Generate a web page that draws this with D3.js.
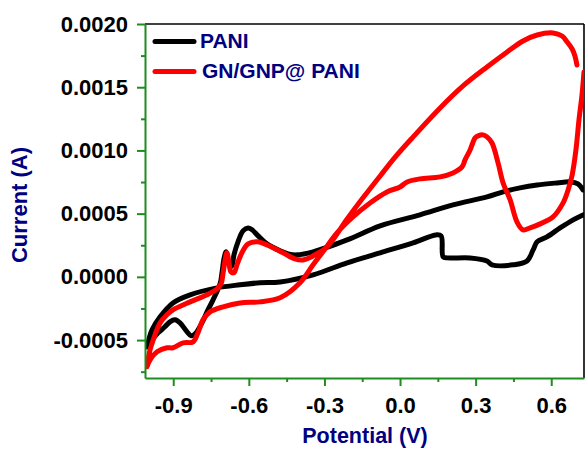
<!DOCTYPE html>
<html>
<head>
<meta charset="utf-8">
<script src="https://cdn.jsdelivr.net/npm/d3@7"></script>
<style>
  html, body { margin: 0; padding: 0; background: #fff; }
  svg { display: block; }
  text { font-family: "Liberation Sans", Arial, sans-serif; font-weight: bold; }
</style>
</head>
<body>
<svg id="chart" width="585" height="449"></svg>
<script>
// ---- data (Potential in V, Current in A) ----
const seriesNames = ["PANI", "GN/GNP@ PANI"];
const xTicks = [-0.9, -0.6, -0.3, 0.0, 0.3, 0.6];
const xMinorTicks = [-0.75, -0.45, -0.15, 0.15, 0.45];
const yTicks = [-0.0005, 0.0000, 0.0005, 0.0010, 0.0015, 0.0020];
const yMinorTicks = [-0.00075, -0.00025, 0.00025, 0.00075, 0.00125, 0.00175];

const paniPotential = [
  -1.004, -0.984, -0.952, -0.901, -0.833, -0.726, -0.635, -0.556, -0.476, -0.345,
  -0.210, -0.079, 0.052, 0.143, 0.163, 0.171, 0.187, 0.278, 0.345, 0.365,
  0.448, 0.504, 0.528, 0.544, 0.583, 0.635, 0.687, 0.726, 0.762,
  0.762, 0.726, 0.706, 0.675, 0.623, 0.544, 0.476, 0.409, 0.345, 0.210,
  0.079, -0.079, -0.210, -0.345, -0.409, -0.444, -0.476, -0.528, -0.563, -0.587,
  -0.603, -0.623, -0.643, -0.659, -0.667, -0.675, -0.683, -0.690, -0.698, -0.706,
  -0.714, -0.742, -0.766, -0.786, -0.813, -0.829, -0.845, -0.873, -0.893, -0.913,
  -0.933, -0.960, -0.984, -1.004
];
const paniCurrent = [
  -0.000553, -0.000419, -0.000316, -0.000206, -0.000142, -0.000087, -0.000063, -0.000047, -0.000040, 0.000016,
  0.000111, 0.000190, 0.000269, 0.000332, 0.000324, 0.000158, 0.000150, 0.000150, 0.000126, 0.000095,
  0.000095, 0.000126, 0.000213, 0.000277, 0.000316, 0.000387, 0.000451, 0.000490, 0.000545,
  0.000625, 0.000688, 0.000735, 0.000751, 0.000743, 0.000727, 0.000704, 0.000672, 0.000632, 0.000569,
  0.000490, 0.000403, 0.000292, 0.000198, 0.000174, 0.000182, 0.000206, 0.000261, 0.000324, 0.000372,
  0.000387, 0.000364, 0.000277, 0.000174, 0.000087, 0.000079, 0.000134, 0.000198, 0.000150, 0.000040,
  -0.000055, -0.000182, -0.000277, -0.000364, -0.000451, -0.000466, -0.000435, -0.000364, -0.000340, -0.000356,
  -0.000395, -0.000443, -0.000498, -0.000553
];

const gnPotential = [
  -1.004, -0.992, -0.972, -0.952, -0.925, -0.901, -0.833, -0.766, -0.726, -0.710,
  -0.702, -0.694, -0.687, -0.679, -0.671, -0.659, -0.647, -0.635, -0.619, -0.603,
  -0.567, -0.528, -0.464, -0.417, -0.385, -0.345, -0.290, -0.210, -0.147, -0.079,
  -0.012, 0.052, 0.159, 0.250, 0.345, 0.425, 0.488, 0.544, 0.607, 0.643,
  0.663, 0.683, 0.694, 0.702, 0.782,
  0.730, 0.722, 0.710, 0.698, 0.683, 0.667, 0.647, 0.607, 0.556, 0.516,
  0.488, 0.464, 0.437, 0.409, 0.389, 0.365, 0.345, 0.329, 0.310, 0.298,
  0.278, 0.258, 0.246, 0.210, 0.159, 0.079, 0.028, 0.000, -0.052, -0.119,
  -0.187, -0.250, -0.306, -0.345, -0.397, -0.476, -0.556, -0.635, -0.702, -0.754,
  -0.782, -0.802, -0.821, -0.861, -0.901, -0.925, -0.964, -0.992, -1.004
];
const gnCurrent = [
  -0.000711, -0.000577, -0.000458, -0.000364, -0.000300, -0.000261, -0.000198, -0.000142, -0.000095, -0.000055,
  0.000032, 0.000134, 0.000190, 0.000119, 0.000040, 0.000032, 0.000095, 0.000158, 0.000221, 0.000261,
  0.000277, 0.000253, 0.000190, 0.000142, 0.000134, 0.000166, 0.000237, 0.000458, 0.000625, 0.000798,
  0.000964, 0.001107, 0.001336, 0.001510, 0.001660, 0.001779, 0.001866, 0.001913, 0.001929, 0.001905,
  0.001858, 0.001802, 0.001747, 0.001676, 0.001760,
  0.001621, 0.001439, 0.001241, 0.001004, 0.000806, 0.000688, 0.000585, 0.000474, 0.000419, 0.000387,
  0.000372, 0.000435, 0.000609, 0.000743, 0.000901, 0.001059, 0.001107, 0.001123, 0.001115, 0.001099,
  0.001004, 0.000925, 0.000870, 0.000822, 0.000791, 0.000775, 0.000751, 0.000711, 0.000672, 0.000585,
  0.000474, 0.000348, 0.000198, 0.000095, -0.000047, -0.000166, -0.000198, -0.000206, -0.000237, -0.000277,
  -0.000340, -0.000443, -0.000514, -0.000522, -0.000561, -0.000561, -0.000593, -0.000656, -0.000711
];

// ---- layout ----
const svg = d3.select("#chart");
const plotLeft = 145, plotRight = 584, plotTop = 24, plotBottom = 378;
const axisGreen = "#1e8c1e";
const navy = "#000080";

const x = d3.scaleLinear().domain([-1.012, 0.730]).range([plotLeft, plotRight]);
const y = d3.scaleLinear().domain([-0.0008, 0.0020]).range([plotBottom, plotTop]);
const xMax = x.domain()[1];

svg.append("defs").append("clipPath").attr("id", "plotclip")
  .append("rect").attr("x", plotLeft).attr("y", plotTop)
  .attr("width", plotRight - plotLeft).attr("height", plotBottom - plotTop);

// frame: top & right black
svg.append("line").attr("x1", plotLeft).attr("x2", plotRight).attr("y1", plotTop).attr("y2", plotTop)
  .attr("stroke", "#000").attr("stroke-width", 1.6);
svg.append("line").attr("x1", plotRight).attr("x2", plotRight).attr("y1", plotTop).attr("y2", plotBottom)
  .attr("stroke", "#000").attr("stroke-width", 1.6);

// curves (points past the right end of the axis are left undrawn)
const line = d3.line().defined(d => d[0] <= xMax + 1e-9)
  .x(d => x(d[0])).y(d => y(d[1])).curve(d3.curveCatmullRom.alpha(0.5));
const series = [
  { name: seriesNames[0], color: "#000000", pts: paniPotential.map((v, i) => [v, paniCurrent[i]]) },
  { name: seriesNames[1], color: "#ff0000", pts: gnPotential.map((v, i) => [v, gnCurrent[i]]) }
];
const plot = svg.append("g").attr("clip-path", "url(#plotclip)");
series.forEach(s => {
  plot.append("path").datum(s.pts).attr("d", line)
    .attr("fill", "none").attr("stroke", s.color).attr("stroke-width", 5)
    .attr("stroke-linejoin", "round").attr("stroke-linecap", "round");
});

// axes
function styleAxis(g) {
  g.select(".domain").attr("stroke", axisGreen).attr("stroke-width", 2);
  g.selectAll(".tick line").attr("stroke", axisGreen).attr("stroke-width", 2);
  g.selectAll(".tick text").attr("fill", "#000").style("font-size", "22px")
    .style("font-family", "'Liberation Sans', Arial, sans-serif").style("font-weight", "bold");
}
const yAxisMinor = svg.append("g").attr("transform", `translate(${plotLeft},0)`)
  .call(d3.axisLeft(y).tickValues(yMinorTicks).tickSize(4).tickFormat(""));
yAxisMinor.select(".domain").remove();
yAxisMinor.selectAll(".tick line").attr("stroke", axisGreen).attr("stroke-width", 2);

const xAxisMinor = svg.append("g").attr("transform", `translate(0,${plotBottom})`)
  .call(d3.axisBottom(x).tickValues(xMinorTicks).tickSize(4).tickFormat(""));
xAxisMinor.select(".domain").remove();
xAxisMinor.selectAll(".tick line").attr("stroke", axisGreen).attr("stroke-width", 2);

const yAxis = svg.append("g").attr("transform", `translate(${plotLeft},0)`)
  .call(d3.axisLeft(y).tickValues(yTicks).tickSize(8).tickSizeOuter(0).tickPadding(9)
    .tickFormat(d => d.toFixed(4)));
styleAxis(yAxis);

const xAxis = svg.append("g").attr("transform", `translate(0,${plotBottom})`)
  .call(d3.axisBottom(x).tickValues(xTicks).tickSize(8).tickSizeOuter(0).tickPadding(11)
    .tickFormat(d => d.toFixed(1)));
styleAxis(xAxis);

// axis titles
svg.append("text").attr("x", 365).attr("y", 443).attr("text-anchor", "middle")
  .attr("fill", navy).style("font-size", "21.5px").text("Potential (V)");
svg.append("text").attr("transform", "translate(27,205) rotate(-90)").attr("text-anchor", "middle")
  .attr("fill", navy).style("font-size", "22px").text("Current (A)");

// legend
const legendY = [41.5, 71.5];
const legendTextX = [200, 202];
series.forEach((s, i) => {
  svg.append("line").attr("x1", 155).attr("x2", 194).attr("y1", legendY[i]).attr("y2", legendY[i])
    .attr("stroke", s.color).attr("stroke-width", 5).attr("stroke-linecap", "round");
  svg.append("text").attr("x", legendTextX[i]).attr("y", legendY[i] + 6.5)
    .attr("fill", navy).style("font-size", "21px").text(s.name);
});
</script>
</body>
</html>
